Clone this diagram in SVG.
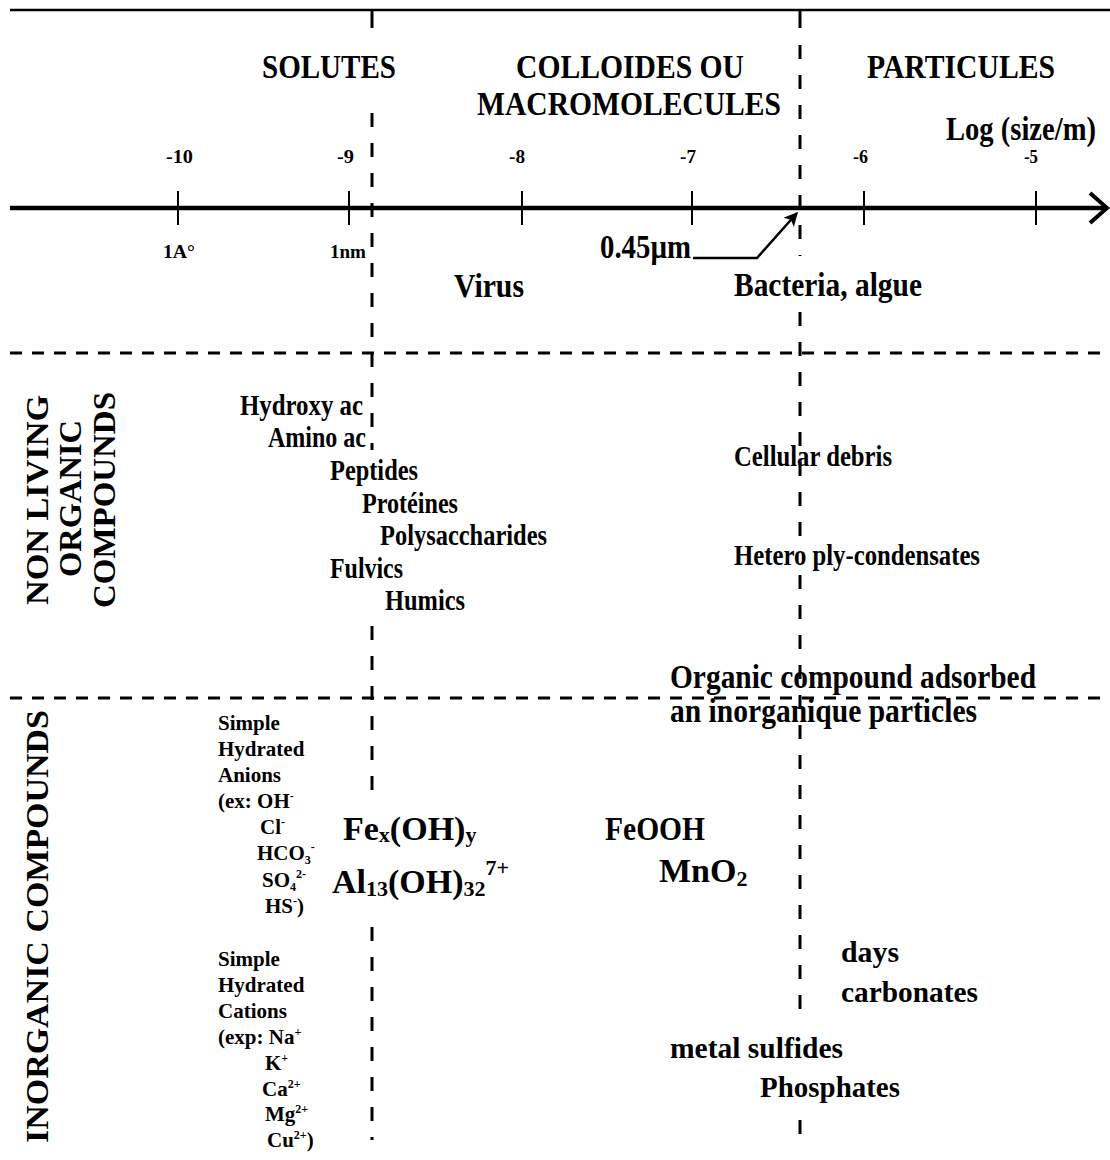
<svg xmlns="http://www.w3.org/2000/svg" width="1110" height="1160" viewBox="0 0 1110 1160">
  <style>
    text { font-family: "Liberation Serif", "Times New Roman", serif; font-weight: bold; fill: #000; }
    .title { font-size: 34px; }
    .tick { font-size: 19px; }
    .big { font-size: 34px; }
    .mid { font-size: 30px; }
    .ion { font-size: 21px; }
    .side { font-size: 31px; }
    .solid { stroke: #000; fill: none; }
    .vdash { stroke: #000; stroke-width: 3; stroke-dasharray: 14 16; fill: none; }
    .hdash { stroke: #000; stroke-width: 3; stroke-dasharray: 12 10; fill: none; }
  </style>
  <defs>
    <marker id="head" viewBox="0 0 10 10" refX="9" refY="5" markerWidth="17" markerHeight="14" orient="auto" markerUnits="userSpaceOnUse">
      <path d="M0,0 L10,5 L0,10 L2.5,5 z" fill="#000"/>
    </marker>
  </defs>
  <rect width="1110" height="1160" fill="#fff"/>

  <!-- frame, size axis and region separators -->
  <g id="connectors">
    <line class="solid" x1="10" y1="10" x2="1110" y2="10" stroke-width="2.5"/>
    <!-- log size axis -->
    <line class="solid" x1="10" y1="208" x2="1104" y2="208" stroke-width="4.5"/>
    <polyline class="solid" points="1090,193 1107,208 1090,223" stroke-width="4"/>
    <g class="solid" stroke-width="2">
      <line x1="178" y1="191" x2="178" y2="225"/>
      <line x1="349" y1="191" x2="349" y2="225"/>
      <line x1="522" y1="191" x2="522" y2="225"/>
      <line x1="692" y1="191" x2="692" y2="225"/>
      <line x1="864" y1="191" x2="864" y2="225"/>
      <line x1="1036" y1="191" x2="1036" y2="225"/>
    </g>
    <!-- solutes / colloids boundary -->
    <line class="solid" x1="372" y1="10" x2="372" y2="28" stroke-width="3"/>
    <line class="vdash" x1="372" y1="113" x2="372" y2="450"/>
    <line class="vdash" x1="372" y1="626" x2="372" y2="795"/>
    <line class="vdash" x1="372" y1="927" x2="372" y2="1140"/>
    <!-- 0.45 µm boundary -->
    <line class="solid" x1="800" y1="10" x2="800" y2="28" stroke-width="3"/>
    <line class="vdash" x1="800" y1="45" x2="800" y2="256"/>
    <line class="vdash" x1="800" y1="312" x2="800" y2="540"/>
    <line class="vdash" x1="800" y1="575" x2="800" y2="1015"/>
    <line class="vdash" x1="800" y1="1120" x2="800" y2="1140"/>
    <!-- horizontal separators -->
    <line class="hdash" x1="10" y1="353" x2="1110" y2="353"/>
    <line class="hdash" x1="10" y1="698" x2="1110" y2="698"/>
    <!-- 0.45 µm pointer -->
    <polyline class="solid" points="693,258 757,258 797,213" stroke-width="2.5" marker-end="url(#head)"/>
  </g>

  <g id="scale-labels">
    <text class="title" x="262" y="78" textLength="134" lengthAdjust="spacingAndGlyphs">SOLUTES</text>
    <text class="title" x="516" y="78" textLength="228" lengthAdjust="spacingAndGlyphs">COLLOIDES OU</text>
    <text class="title" x="477" y="115" textLength="304" lengthAdjust="spacingAndGlyphs">MACROMOLECULES</text>
    <text class="title" x="867" y="78" textLength="188" lengthAdjust="spacingAndGlyphs">PARTICULES</text>
    <text class="title" x="946" y="140" font-size="28" textLength="150" lengthAdjust="spacingAndGlyphs">Log (size/m)</text>
    <text class="tick" x="166" y="163" textLength="27" lengthAdjust="spacingAndGlyphs">-10</text>
    <text class="tick" x="337" y="163" textLength="17" lengthAdjust="spacingAndGlyphs">-9</text>
    <text class="tick" x="509" y="163" textLength="16" lengthAdjust="spacingAndGlyphs">-8</text>
    <text class="tick" x="680" y="163" textLength="16" lengthAdjust="spacingAndGlyphs">-7</text>
    <text class="tick" x="853" y="163" textLength="15" lengthAdjust="spacingAndGlyphs">-6</text>
    <text class="tick" x="1024" y="163" textLength="14" lengthAdjust="spacingAndGlyphs">-5</text>
    <text class="tick" x="163" y="258" textLength="32" lengthAdjust="spacingAndGlyphs">1A°</text>
    <text class="tick" x="330" y="258" textLength="36" lengthAdjust="spacingAndGlyphs">1nm</text>
    <text class="big" x="600" y="258" font-size="32" textLength="91" lengthAdjust="spacingAndGlyphs">0.45µm</text>
  </g>

  <g id="organisms">
    <text class="big" x="454" y="297" textLength="70" lengthAdjust="spacingAndGlyphs">Virus</text>
    <text class="big" x="734" y="296" textLength="188" lengthAdjust="spacingAndGlyphs">Bacteria, algue</text>
  </g>

  <g id="row-titles">
    <text class="side" transform="translate(48,605) rotate(-90)" textLength="210" lengthAdjust="spacingAndGlyphs">NON LIVING</text>
    <text class="side" transform="translate(81,577) rotate(-90)" textLength="157" lengthAdjust="spacingAndGlyphs">ORGANIC</text>
    <text class="side" transform="translate(115,608) rotate(-90)" textLength="216" lengthAdjust="spacingAndGlyphs">COMPOUNDS</text>
    <text class="side" transform="translate(48,1143) rotate(-90)" textLength="433" lengthAdjust="spacingAndGlyphs">INORGANIC COMPOUNDS</text>
  </g>

  <g id="organic-compounds">
    <text class="mid" x="240" y="415" textLength="123" lengthAdjust="spacingAndGlyphs">Hydroxy ac</text>
    <text class="mid" x="268" y="447" textLength="98" lengthAdjust="spacingAndGlyphs">Amino ac</text>
    <text class="mid" x="330" y="480" textLength="88" lengthAdjust="spacingAndGlyphs">Peptides</text>
    <text class="mid" x="362" y="513" textLength="96" lengthAdjust="spacingAndGlyphs">Protéines</text>
    <text class="mid" x="380" y="545" textLength="167" lengthAdjust="spacingAndGlyphs">Polysaccharides</text>
    <text class="mid" x="330" y="578" textLength="73" lengthAdjust="spacingAndGlyphs">Fulvics</text>
    <text class="mid" x="385" y="610" textLength="80" lengthAdjust="spacingAndGlyphs">Humics</text>
    <text class="mid" x="734" y="466" textLength="158" lengthAdjust="spacingAndGlyphs">Cellular debris</text>
    <text class="mid" x="734" y="565" textLength="246" lengthAdjust="spacingAndGlyphs">Hetero ply-condensates</text>
    <text class="big" x="670" y="688" textLength="366" lengthAdjust="spacingAndGlyphs">Organic compound adsorbed</text>
    <text class="big" x="670" y="722" textLength="307" lengthAdjust="spacingAndGlyphs">an inorganique particles</text>
  </g>

  <g id="anions">
    <text class="ion" x="218" y="730">Simple</text>
    <text class="ion" x="218" y="756">Hydrated</text>
    <text class="ion" x="218" y="782">Anions</text>
    <text class="ion" x="218" y="808">(ex: OH<tspan font-size="12" dy="-8">-</tspan></text>
    <text class="ion" x="260" y="834">Cl<tspan font-size="12" dy="-8">-</tspan></text>
    <text class="ion" x="257" y="860">HCO<tspan font-size="12" dy="4">3</tspan><tspan font-size="12" dy="-13">-</tspan></text>
    <text class="ion" x="262" y="887">SO<tspan font-size="12" dy="4">4</tspan><tspan font-size="12" dy="-13">2-</tspan></text>
    <text class="ion" x="265" y="913">HS<tspan font-size="12" dy="-8">-</tspan><tspan dy="8">)</tspan></text>
  </g>

  <g id="cations">
    <text class="ion" x="218" y="966">Simple</text>
    <text class="ion" x="218" y="992">Hydrated</text>
    <text class="ion" x="218" y="1018">Cations</text>
    <text class="ion" x="218" y="1044">(exp: Na<tspan font-size="12" dy="-8">+</tspan></text>
    <text class="ion" x="265" y="1070">K<tspan font-size="12" dy="-8">+</tspan></text>
    <text class="ion" x="262" y="1096">Ca<tspan font-size="12" dy="-8">2+</tspan></text>
    <text class="ion" x="265" y="1121">Mg<tspan font-size="12" dy="-8">2+</tspan></text>
    <text class="ion" x="267" y="1147">Cu<tspan font-size="12" dy="-8">2+</tspan><tspan dy="8">)</tspan></text>
  </g>

  <g id="inorganic-colloids">
    <text class="big" x="343" y="840">Fe<tspan font-size="22" dy="2">x</tspan><tspan dy="-2">(OH)</tspan><tspan font-size="22" dy="2">y</tspan></text>
    <text class="big" x="332" y="893">Al<tspan font-size="22" dy="3">13</tspan><tspan dy="-3">(OH)</tspan><tspan font-size="22" dy="3">32</tspan><tspan font-size="22" dy="-21">7+</tspan></text>
    <text class="big" x="605" y="840" textLength="100" lengthAdjust="spacingAndGlyphs">FeOOH</text>
    <text class="big" x="659" y="882">MnO<tspan font-size="22" dy="4">2</tspan></text>
  </g>

  <g id="particles">
    <text class="mid" x="841" y="962" font-size="31" textLength="58" lengthAdjust="spacingAndGlyphs">days</text>
    <text class="mid" x="841" y="1002" font-size="31" textLength="137" lengthAdjust="spacingAndGlyphs">carbonates</text>
    <text class="mid" x="670" y="1058" font-size="31" textLength="173" lengthAdjust="spacingAndGlyphs">metal sulfides</text>
    <text class="mid" x="760" y="1097" font-size="31" textLength="140" lengthAdjust="spacingAndGlyphs">Phosphates</text>
  </g>
</svg>
